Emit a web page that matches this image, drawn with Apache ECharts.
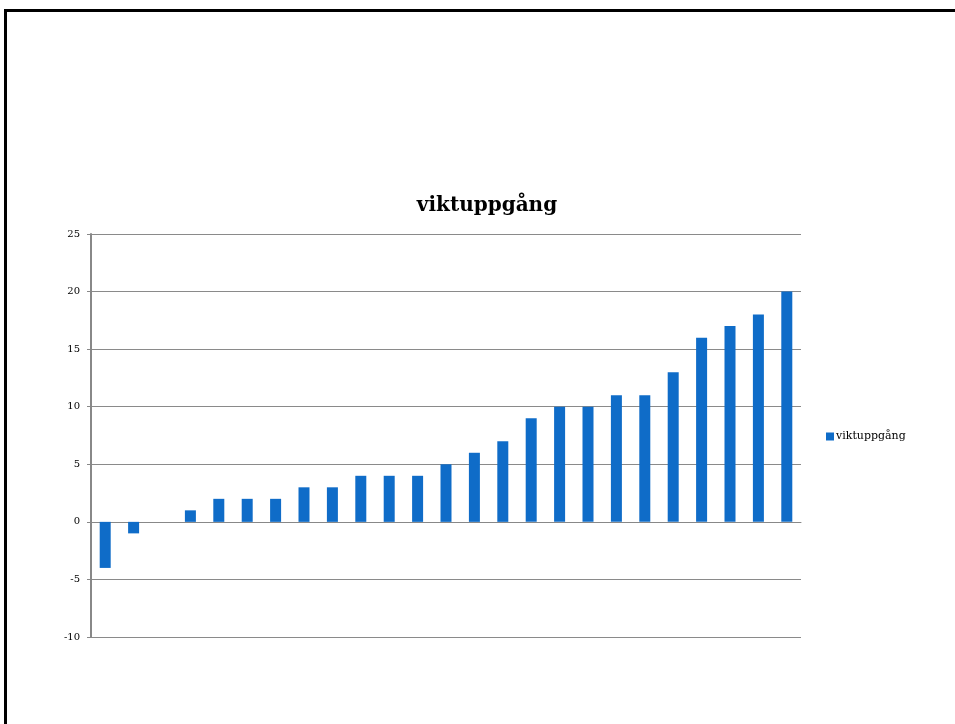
<!DOCTYPE html>
<html>
<head>
<meta charset="utf-8">
<script src="https://cdn.jsdelivr.net/npm/echarts@6/dist/echarts.min.js"></script>
<style>
  html, body { margin: 0; padding: 0; background: #fff; }
  #frame { position: absolute; left: 4px; top: 9px; width: 960px; height: 730px;
           border-top: 3px solid #000; border-left: 3px solid #000; box-sizing: border-box; }
  #chart { position: absolute; left: 0; top: 0; width: 955px; height: 724px; }
</style>
</head>
<body>
<div id="frame"></div>
<div id="chart"></div>
<script>
// Weight gain per person, sorted ascending
const categories = ['1','2','3','4','5','6','7','8','9','10','11','12','13','14','15','16','17','18','19','20','21','22','23','24','25'];
const viktuppgang = [-4, -1, 0, 1, 2, 2, 2, 3, 3, 4, 4, 4, 5, 6, 7, 9, 10, 10, 11, 11, 13, 16, 17, 18, 20];
const seriesName = 'viktuppgång';

const serif = '"DejaVu Serif", "Liberation Serif", serif';
const chart = echarts.init(document.getElementById('chart'), null, { renderer: 'canvas' });
chart.setOption({
  backgroundColor: 'transparent',
  animation: false,
  title: {
    text: 'viktuppgång',
    left: 482, top: 191, textAlign: 'center',
    textStyle: { fontFamily: serif, fontSize: 20, fontWeight: 'bold', color: '#000' }
  },
  legend: {
    data: [seriesName],
    left: 821, top: 426,
    itemWidth: 8, itemHeight: 8, itemGap: 4,
    icon: 'rect',
    textStyle: { fontFamily: serif, fontSize: 11, color: '#000', padding: [0, 0, 0, -3] }
  },
  grid: { left: 91, right: 154, top: 234, bottom: 87, containLabel: false },
  xAxis: {
    type: 'category',
    data: categories,
    axisLine: { onZero: true, lineStyle: { color: '#888', width: 1 } },
    axisTick: { show: false },
    axisLabel: { show: false },
    splitLine: { show: false }
  },
  yAxis: {
    type: 'value',
    min: -10, max: 25, interval: 5,
    axisLine: { show: true, lineStyle: { color: '#888', width: 2 } },
    axisTick: { show: true, inside: false, length: 4, lineStyle: { color: '#888' } },
    axisLabel: { fontFamily: serif, fontSize: 10, color: '#000', margin: 11 },
    splitLine: { show: true, lineStyle: { color: '#8a8a8a', width: 1 } }
  },
  series: [{
    name: seriesName,
    type: 'bar',
    data: viktuppgang,
    barWidth: 11,
    itemStyle: { color: '#0f6cc8' }
  }]
});
</script>
</body>
</html>
